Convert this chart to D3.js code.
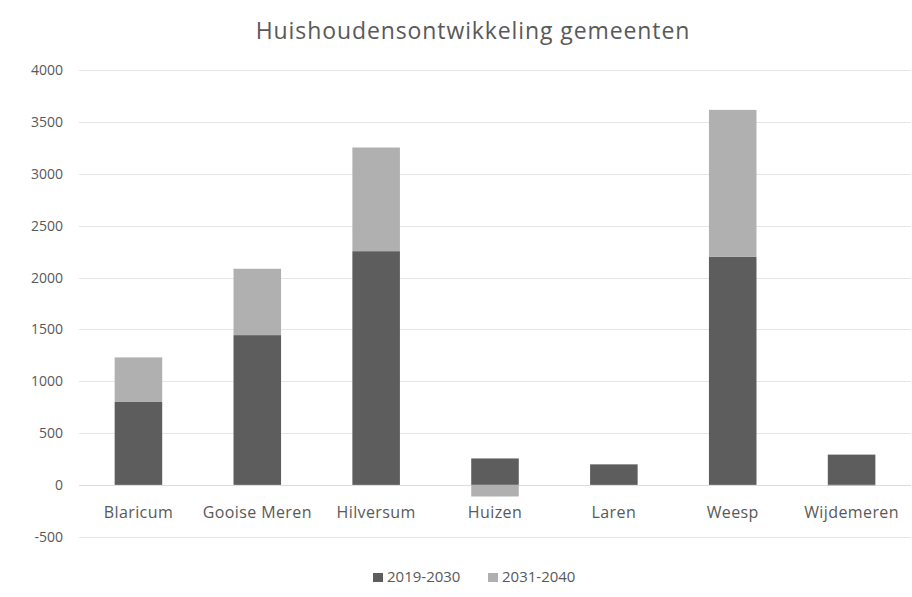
<!DOCTYPE html>
<html>
<head>
<meta charset="utf-8">
<script src="https://cdn.jsdelivr.net/npm/d3@7"></script>
<style>
  body { margin: 0; background: #fff; }
  svg { font-family: "Open Sans", sans-serif; }
</style>
</head>
<body>
<svg id="svg1" width="912" height="597"></svg>
<script>
var gemeenten = ['Blaricum', 'Gooise Meren', 'Hilversum', 'Huizen', 'Laren', 'Weesp', 'Wijdemeren'];
var periode1 = [800, 1445, 2255, 255, 198, 2200, 292];     // 2019-2030
var periode2 = [430, 640, 1000, -112, 0, 1418, -8];         // 2031-2040
var yTicks = [-500, 0, 500, 1000, 1500, 2000, 2500, 3000, 3500, 4000];
var reeksen = ['2019-2030', '2031-2040'];
var kleuren = ['#5d5d5d', '#b0b0b0'];

var width = document.getElementById('svg1').clientWidth;
var height = document.getElementById('svg1').clientHeight;

var svg = d3.select('svg');

var x = d3.scaleBand()
    .domain(gemeenten)
    .range([79, 911])
    .paddingInner(0.6)
    .paddingOuter(0.3);

var y = d3.scaleLinear()
    .domain([-500, 4000])
    .range([536.7, 70.3]);

// gridlines
svg.append('g')
    .selectAll('line')
    .data(yTicks)
    .enter()
    .append('line')
    .attr('x1', 79)
    .attr('x2', 911)
    .attr('y1', function(d){ return Math.round(y(d)) + 0.5; })
    .attr('y2', function(d){ return Math.round(y(d)) + 0.5; })
    .attr('stroke', function(d){ return d === 0 ? '#dcdcdc' : '#e6e6e6'; })
    .attr('stroke-width', 1.2);

// y axis labels (plain hyphen, no thousands separator)
var yAxis = d3.axisLeft(y)
    .tickValues(yTicks)
    .tickFormat(function(d){ return String(d); })
    .tickSize(0)
    .tickPadding(0);
var yg = svg.append('g')
    .attr('transform', 'translate(63,0)')
    .call(yAxis);
yg.select('.domain').remove();
yg.selectAll('text')
    .attr('fill', '#595959')
    .style('font-size', '14px')
    .style('font-family', '"Open Sans", sans-serif');

// stacked data: positive values stack up, negative down from zero
var stapels = gemeenten.map(function(g, i){
    var vals = [periode1[i], periode2[i]];
    var pos = 0, neg = 0;
    return vals.map(function(v, k){
        var y0, y1;
        if (v >= 0) { y0 = pos; y1 = pos + v; pos = y1; }
        else { y0 = neg; y1 = neg + v; neg = y1; }
        return { gemeente: g, reeks: k, y0: y0, y1: y1 };
    });
});

svg.append('g')
    .selectAll('g')
    .data(stapels)
    .enter()
    .append('g')
    .selectAll('rect')
    .data(function(d){ return d; })
    .enter()
    .append('rect')
    .attr('x', function(d){ return x(d.gemeente); })
    .attr('width', x.bandwidth())
    .attr('y', function(d){ return y(Math.max(d.y0, d.y1)); })
    .attr('height', function(d){ return Math.abs(y(d.y0) - y(d.y1)); })
    .attr('fill', function(d){ return kleuren[d.reeks]; });

// category labels
var xAxis = d3.axisBottom(x).tickSize(0).tickPadding(0);
var xg = svg.append('g')
    .attr('transform', 'translate(0,507)')
    .call(xAxis);
xg.select('.domain').remove();
xg.selectAll('text')
    .attr('fill', '#595959')
    .style('font-size', '16px')
    .style('letter-spacing', '0.4px')
    .style('font-family', '"Open Sans", sans-serif');

// title
svg.append('text')
    .attr('x', 473)
    .attr('y', 39)
    .attr('text-anchor', 'middle')
    .attr('fill', '#595959')
    .style('font-size', '23px')
    .style('letter-spacing', '0.9px')
    .text('Huishoudensontwikkeling gemeenten');

// legend
var legendX = [373, 488];
var legend = svg.append('g')
    .selectAll('g')
    .data(reeksen)
    .enter()
    .append('g')
    .attr('transform', function(d, i){ return 'translate(' + legendX[i] + ',582)'; });

legend.append('rect')
    .attr('x', 0)
    .attr('y', -9)
    .attr('width', 10)
    .attr('height', 9)
    .attr('fill', function(d, i){ return kleuren[i]; });

legend.append('text')
    .attr('x', 14)
    .attr('y', 0)
    .attr('fill', '#595959')
    .style('font-size', '15px')
    .text(function(d){ return d; });
</script>
</body>
</html>
